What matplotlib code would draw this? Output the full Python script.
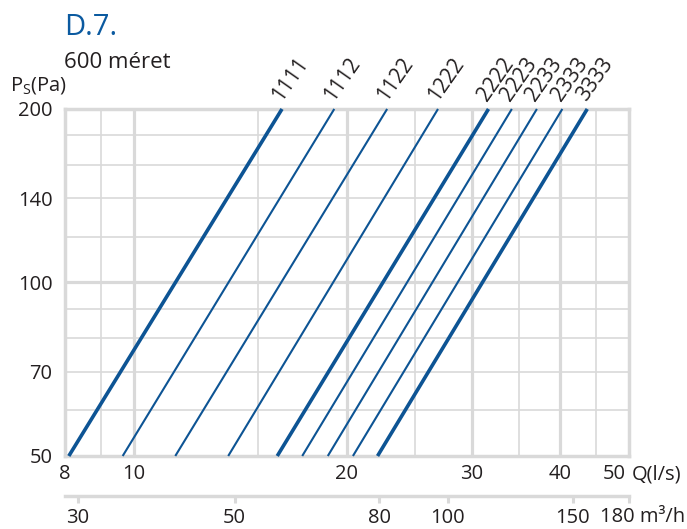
import matplotlib.pyplot as plt
from matplotlib.ticker import NullLocator

plt.rcParams['font.family'] = ['Open Sans', 'DejaVu Sans']

########################################
# DATA
########################################
codes = ['1111', '1112', '1122', '1222', '2222', '2223', '2233', '2333', '3333']
q_at_50 = [8.1, 9.65, 11.45, 13.6, 15.95, 17.3, 18.8, 20.4, 22.1]     # l/s at 50 Pa
q_at_200 = [16.2, 19.2, 22.8, 26.9, 31.7, 34.2, 37.1, 40.3, 43.7]     # l/s at 200 Pa
thick = ['1111', '2222', '3333']

x_ticks = [8, 10, 20, 30, 40, 50]
x_major_grid = [10, 20, 30, 40]
x_minor_grid = [9, 15, 25, 35, 45]
y_ticks = [50, 70, 100, 140, 200]
y_major_grid = [100]
y_minor_grid = [60, 70, 80, 90, 120, 140, 160, 180]
m3h_ticks = [30, 50, 80, 100, 150, 180]

########################################
# STYLE
########################################
BLUE = '#0d5494'
GRID = '#d9d9d9'
TXT = '#231f20'
FS = 14.5

fig = plt.figure(figsize=(6.87, 5.29), dpi=100)
ax = fig.add_axes([0.0946, 0.138, 0.8205, 0.656])
ax.set_xscale('log')
ax.set_yscale('log')
ax.set_xlim(8, 50)
ax.set_ylim(50, 200)

# grid
for x in x_minor_grid:
    ax.axvline(x, color=GRID, lw=1.2, zorder=1)
for y in y_minor_grid:
    ax.axhline(y, color=GRID, lw=1.2, zorder=1)
for x in x_major_grid:
    ax.axvline(x, color=GRID, lw=2.3, zorder=1)
for y in y_major_grid:
    ax.axhline(y, color=GRID, lw=2.3, zorder=1)

for s in ax.spines.values():
    s.set_color(GRID)
    s.set_linewidth(2.5)

# curves
for code, q1, q2 in zip(codes, q_at_50, q_at_200):
    lw = 2.6 if code in thick else 1.5
    ax.plot([q1, q2], [50, 200], color=BLUE, lw=lw, solid_capstyle='butt',
            zorder=3, clip_on=False)
    ax.annotate(code, xy=(q2, 200), xytext=(-1, 5), textcoords='offset points',
                rotation=55, rotation_mode='anchor', ha='left', va='baseline',
                fontsize=15, color=TXT)

# ticks
ax.xaxis.set_minor_locator(NullLocator())
ax.yaxis.set_minor_locator(NullLocator())
ax.set_xticks(x_ticks)
ax.set_xticklabels([str(v) for v in x_ticks[:-1]] + [''])
ax.set_yticks(y_ticks)
ax.set_yticklabels([str(v) for v in y_ticks])
ax.tick_params(axis='x', length=0, pad=6, labelsize=FS, labelcolor=TXT)
ax.tick_params(axis='y', length=0, pad=9, labelsize=FS, labelcolor=TXT)

ax.annotate('50', xy=(50, 0), xycoords=('data', 'axes fraction'),
            xytext=(-2, -6), textcoords='offset points', ha='right', va='top',
            fontsize=FS, color=TXT)
ax.annotate('Q(l/s)', xy=(50, 0), xycoords=('data', 'axes fraction'),
            xytext=(2, -6), textcoords='offset points', ha='left', va='top',
            fontsize=FS, color=TXT)

# secondary m3/h axis
sec = ax.secondary_xaxis(-0.115, functions=(lambda q: q * 3.6, lambda m: m / 3.6))
sec.xaxis.set_minor_locator(NullLocator())
sec.set_xticks(m3h_ticks)
sec.set_xticklabels([str(v) for v in m3h_ticks[:-1]] + [''])
sec.tick_params(direction='out', length=5, width=2.2, color=GRID, pad=4,
                labelsize=FS, labelcolor=TXT)
sec.spines['bottom'].set_color(GRID)
sec.spines['bottom'].set_linewidth(2.5)

ax.annotate('180 m³/h', xy=(685 / 687, -0.115),
            xycoords=('figure fraction', 'axes fraction'),
            xytext=(0, -8), textcoords='offset points', ha='right', va='top',
            fontsize=FS, color=TXT)

# titles
fig.text(64 / 687, 1 - 35 / 529, 'D.7.', fontsize=21, color='#0b5aa0',
         ha='left', va='baseline')
fig.text(64 / 687, 1 - 68 / 529, '600 méret', fontsize=16, color=TXT,
         ha='left', va='baseline')
fig.text(10 / 687, 1 - 90 / 529, r'P$_\mathregular{S}$(Pa)', fontsize=FS,
         color=TXT, ha='left', va='baseline')

fig.savefig('out.png', dpi=100)
